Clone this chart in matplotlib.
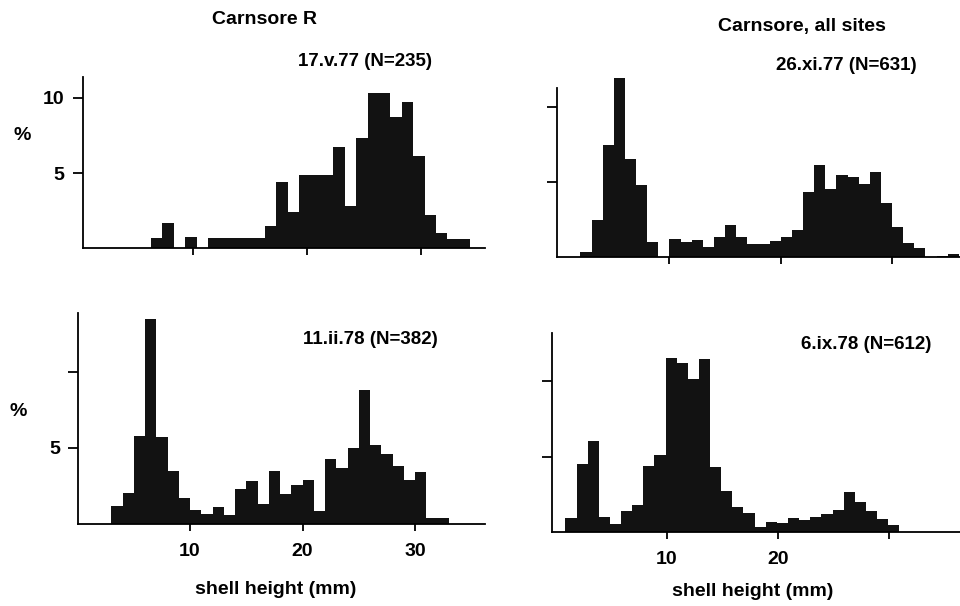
import numpy as np
import matplotlib
matplotlib.use('Agg')
import matplotlib.pyplot as plt

plt.rcParams['font.family'] = ['Liberation Sans', 'DejaVu Sans']
plt.rcParams['font.weight'] = 'bold'

# % of individuals per 1 mm shell-height class
may77_start = 6.3
may77_pct = [0.67, 1.67, 0, 0.73, 0, 0.71, 0.71, 0.71, 0.71, 0.71, 1.49, 4.38,
             2.44, 4.84, 4.84, 4.84, 6.71, 2.82, 7.33, 10.3, 10.3, 8.73, 9.71,
             6.11, 2.22, 1.0, 0.6, 0.6]

nov77_start = 2.0
nov77_pct = [0.38, 2.49, 7.49, 11.93, 6.53, 4.8, 1.02, 0, 1.22, 1.04, 1.16, 0.67,
             1.38, 2.13, 1.38, 0.91, 0.91, 1.09, 1.33, 1.8, 4.36, 6.13, 4.58,
             5.49, 5.38, 4.87, 5.71, 3.64, 2.0, 0.93, 0.64, 0, 0.1, 0.25]

feb78_start = 3.0
feb78_pct = [1.18, 2.06, 5.79, 13.5, 5.75, 3.51, 1.73, 0.92, 0.64, 1.1, 0.59,
             2.32, 2.85, 1.32, 3.51, 1.95, 2.57, 2.89, 0.86, 4.25, 3.71, 5.02,
             8.82, 5.2, 4.58, 3.84, 2.89, 3.44, 0.37, 0.37]

sep78_start = 0.9
sep78_pct = [0.93, 4.51, 6.04, 1.0, 0.51, 1.38, 1.78, 4.4, 5.11, 11.56, 11.22,
             10.18, 11.49, 4.29, 2.71, 1.62, 1.22, 0.29, 0.62, 0.56, 0.93, 0.78,
             0.96, 1.16, 1.44, 2.62, 1.96, 1.4, 0.84, 0.44]

x_ticks = [10, 20, 30]
y_ticks = [5, 10]

W, H = 960, 606
fig = plt.figure(figsize=(W / 100, H / 100), dpi=100)

def px_axes(left, top, right, bottom):
    return fig.add_axes([left / W, 1 - bottom / H, (right - left) / W, (bottom - top) / H])

def histo(ax, start, pct, xlim, ylim, ylabels, xlabels, spine_top=None):
    x = start + np.arange(len(pct))
    ax.bar(x, pct, width=1.0, align='edge', color='#121212', linewidth=0)
    ax.set_xlim(*xlim)
    ax.set_ylim(*ylim)
    for side in ('top', 'right'):
        ax.spines[side].set_visible(False)
    for side in ('left', 'bottom'):
        ax.spines[side].set_linewidth(1.3)
    if spine_top is not None:
        ax.spines['left'].set_bounds(0, spine_top)
    ax.set_xticks(x_ticks)
    ax.set_yticks(y_ticks)
    ax.set_xticklabels(xlabels)
    ax.set_yticklabels(ylabels)
    ax.tick_params(axis='x', direction='out', length=5, width=1.3, pad=9, labelsize=14)
    ax.tick_params(axis='y', direction='out', length=7, width=1.3, pad=6, labelsize=14)
    ax.set_facecolor('none')

ax1 = px_axes(82.7, 76.7, 485, 248.3)
histo(ax1, may77_start, may77_pct, (0.3, 35.6), (0, 11.4), ['5', '10'], ['', '', ''])

ax2 = px_axes(556.7, 77.3, 960, 257.3)
histo(ax2, nov77_start, nov77_pct, (-0.13, 36.1), (0, 12.0), ['', ''], ['', '', ''],
      spine_top=11.27)

ax3 = px_axes(78.3, 312.7, 484.8, 524)
histo(ax3, feb78_start, feb78_pct, (0.07, 36.2), (0, 13.9), ['5', ''], ['10', '20', '30'])

ax4 = px_axes(551.7, 333.3, 960, 531.7)
histo(ax4, sep78_start, sep78_pct, (-0.33, 36.35), (0, 13.2), ['', ''], ['10', '20', ''])

def ftext(x, y, s, size=14):
    fig.text(x / W, 1 - y / H, s, ha='center', va='center', fontsize=size, fontweight='bold')

ftext(264, 20, 'Carnsore R')
ftext(802, 27, 'Carnsore, all sites')
ftext(365, 61, '17.v.77 (N=235)', 13.5)
ftext(846, 65, '26.xi.77 (N=631)', 13.5)
ftext(370, 340, '11.ii.78 (N=382)', 13.5)
ftext(866, 345, '6.ix.78 (N=612)', 13.5)
ftext(22, 135, '%')
ftext(18, 412, '%')
ftext(276, 589, 'shell height (mm)')
ftext(753, 592, 'shell height (mm)')

fig.savefig('out.png', dpi=100)
